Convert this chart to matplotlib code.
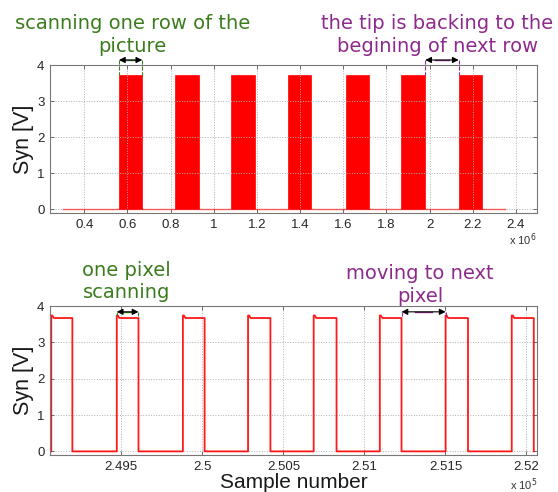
import numpy as np
import matplotlib.pyplot as plt
from matplotlib.ticker import FuncFormatter

# top panel: one row per bar (sample index)
row_start = [0.561e6, 0.820e6, 1.080e6, 1.343e6, 1.611e6, 1.869e6, 2.135e6]
row_end = [0.669e6, 0.931e6, 1.190e6, 1.452e6, 1.721e6, 1.980e6, 2.242e6]
row_level = 3.72
base_start, base_end, base_level = 0.30e6, 2.35e6, 0.02

# bottom panel: pixel pulses (sample index)
rise = [249068, 249472, 249880, 250282, 250687, 251095, 251501, 251909]
fall = [249198, 249606, 250014, 250420, 250828, 251229, 251639, 252045]
high = 3.67
peak = 3.74
low = 0.0

green = '#3b7d1d'
purple = '#8e2a8e'
plt.rcParams['font.family'] = ['Liberation Sans', 'DejaVu Sans']

fig = plt.figure(figsize=(5.58, 4.92), dpi=100)
ax1 = fig.add_axes([0.0896, 0.567, 0.8728, 0.3008])
ax2 = fig.add_axes([0.0896, 0.0752, 0.8728, 0.3028])

# top
widths = [e - s for s, e in zip(row_start, row_end)]
ax1.plot([base_start, base_end], [base_level, base_level], color='red', lw=1, alpha=0.6)
ax1.bar(row_start, row_level, width=widths, align='edge', color='red', edgecolor='red', lw=0.5)
ax1.set_xlim(0.2415e6, 2.498e6)
ax1.set_xticks(np.arange(0.4e6, 2.41e6, 0.2e6))
ax1.xaxis.set_major_formatter(FuncFormatter(lambda v, p: ('%g' % round(v / 1e6, 3))))

# bottom
xs, ys = [rise[0] - 20], [low]
for r, f in zip(rise, fall):
    xs += [r, r, r + 6, r + 16, f, f]
    ys += [low, peak, peak, high, high, low]
ax2.plot(xs, ys, color='red', lw=1.3, alpha=0.9)
ax2.set_xlim(249060, 252065)
ax2.set_xticks(np.arange(249500, 252001, 500))
ax2.xaxis.set_major_formatter(FuncFormatter(lambda v, p: ('%g' % round(v / 1e5, 4))))
ax2.set_xlabel('Sample number', fontsize=15, color='#1a1a1a', labelpad=0)

for ax in (ax1, ax2):
    ax.set_ylim(-0.1, 4)
    ax.set_yticks([0, 1, 2, 3, 4])
    ax.grid(True, ls=':', color='#b0b0b0', lw=0.7)
    ax.tick_params(direction='in', top=True, right=True, length=3, width=0.6,
                   labelsize=9.5, labelcolor='#262626', color='#555555', pad=4)
    for s in ax.spines.values():
        s.set_color('#777777')
        s.set_linewidth(0.8)
    ax.set_ylabel('Syn [V]', fontsize=15.5, color='#1a1a1a', labelpad=2)

fig.text(537 / 558, 1 - 240 / 492, r'x 10$^6$', ha='right', va='center', fontsize=8, color='#333333')
fig.text(537 / 558, 1 - 485 / 492, r'x 10$^5$', ha='right', va='center', fontsize=8, color='#333333')


def span_arrow(ax, x0, x1, y, ytop, col):
    ax.annotate('', xy=(x1, y), xytext=(x0, y), annotation_clip=False,
                arrowprops=dict(arrowstyle='<|-|>', color='black', lw=0.8,
                                mutation_scale=9, shrinkA=0, shrinkB=0))
    ax.plot([x0 + (x1 - x0) * 0.3, x1 - (x1 - x0) * 0.3], [y, y], color=col, lw=1, clip_on=False)
    ax.plot([x0, x0], [y, ytop], color=col, lw=0.8, ls='--', clip_on=False, zorder=3)
    ax.plot([x1, x1], [y, ytop], color=col, lw=0.8, ls='--', clip_on=False, zorder=3)


span_arrow(ax1, row_start[0], row_end[0], 4.14, row_level, green)
span_arrow(ax1, row_end[5], row_start[6], 4.14, row_level, purple)
span_arrow(ax2, rise[1], fall[1], 3.84, high, green)
span_arrow(ax2, fall[5], rise[6], 3.84, high, purple)

tfont = dict(fontsize=14, ha='center', va='center', linespacing=1.25, family='DejaVu Sans')
fig.text(0.2375, 0.929, 'scanning one row of the\npicture', color=green, **tfont)
fig.text(0.784, 0.929, 'the tip is backing to the\nbegining of next row', color=purple, **tfont)
fig.text(0.227, 0.428, 'one pixel\nscanning', color=green, **tfont)
fig.text(0.753, 0.421, 'moving to next\npixel', color=purple, **tfont)

fig.savefig('out.png', dpi=100)
